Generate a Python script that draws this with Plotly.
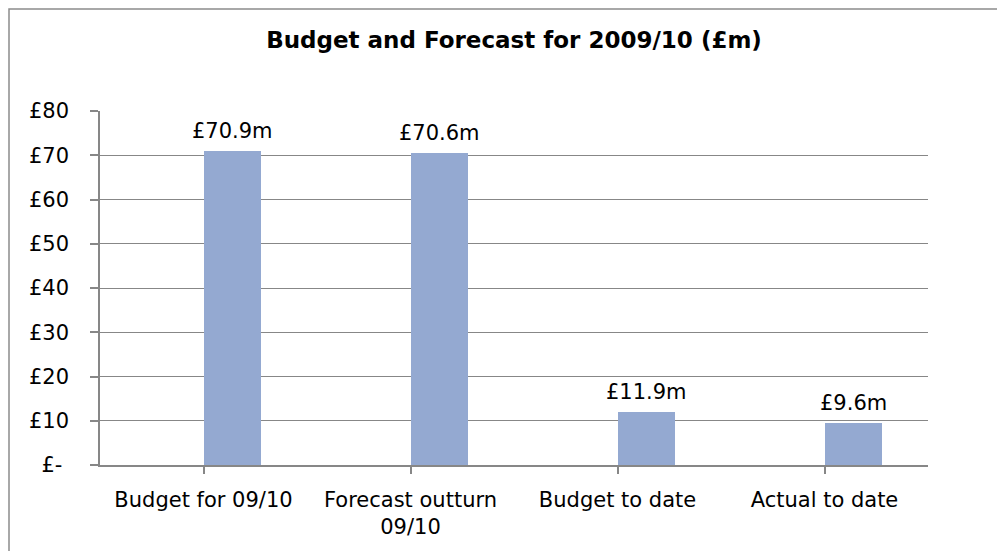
import plotly.graph_objects as go

categories = ["Budget for 09/10", "Forecast outturn<br>09/10", "Budget to date", "Actual to date"]
values = [70.9, 70.6, 11.9, 9.6]
value_labels = ["£70.9m", "£70.6m", "£11.9m", "£9.6m"]
y_tickvals = [0, 10, 20, 30, 40, 50, 60, 70, 80]
y_ticktext = ["£-\u00a0", "£10", "£20", "£30", "£40", "£50", "£60", "£70", "£80"]
title_text = "Budget and Forecast for 2009/10 (£m)"

# page body has an 8px margin, so the figure is laid out in page pixels minus 8
W, H = 997, 543
L, R, T, B = 92, 77, 103, 86
pw, ph = W - L - R, H - T - B

GRID = "#878787"
BAR = "#94A9D1"
FONT = "DejaVu Sans"

bar_w = 0.28
fig = go.Figure()
fig.add_trace(go.Bar(
    x=list(range(len(categories))), y=values,
    width=bar_w, offset=0,
    marker=dict(color=BAR, line=dict(width=0)),
    hoverinfo="skip",
))

for i, (v, lab) in enumerate(zip(values, value_labels)):
    fig.add_annotation(x=i + bar_w / 2, y=v, text=lab, showarrow=False,
                       xref="x", yref="y", yanchor="bottom", yshift=6,
                       font=dict(family=FONT, size=21, color="#000000"))

def px_x(p):
    return (p - L) / pw

def px_y(p):
    return (H - B - p) / ph

# chart outer border
fig.add_shape(type="rect", xref="paper", yref="paper",
              x0=px_x(1), x1=px_x(1010), y0=px_y(560), y1=px_y(1),
              line=dict(color="#8c8c8c", width=1.5), fillcolor="rgba(0,0,0,0)", layer="below")

fig.update_layout(
    width=W, height=H,
    margin=dict(l=L, r=R, t=T, b=B, autoexpand=False),
    paper_bgcolor="white", plot_bgcolor="white",
    showlegend=False,
    font=dict(family=FONT, size=21, color="#000000"),
    title=dict(text="<b>" + title_text + "</b>", xref="paper", x=0.5, xanchor="center",
               yref="container", y=1 - 32 / H, yanchor="middle",
               font=dict(family=FONT, size=23, color="#000000")),
    bargap=0,
    xaxis=dict(
        tickmode="array", tickvals=list(range(len(categories))), ticktext=categories,
        range=[-0.5, len(categories) - 0.5],
        showgrid=False, zeroline=False,
        showline=True, linecolor=GRID, linewidth=1.5,
        ticks="outside", ticklen=7, tickcolor=GRID, tickwidth=1.5,
        tickson="boundaries", ticklabelstandoff=8,
        tickfont=dict(family=FONT, size=21, color="#000000"),
    ),
    yaxis=dict(
        range=[0, 80], tickmode="array", tickvals=y_tickvals, ticktext=y_ticktext,
        showgrid=True, gridcolor=GRID, gridwidth=1,
        zeroline=False,
        showline=True, linecolor=GRID, linewidth=1.5,
        ticks="outside", ticklen=8, tickcolor=GRID, tickwidth=1.5,
        ticklabelstandoff=17,
        tickfont=dict(family=FONT, size=21, color="#000000"),
    ),
)

fig.write_html("out.html")
